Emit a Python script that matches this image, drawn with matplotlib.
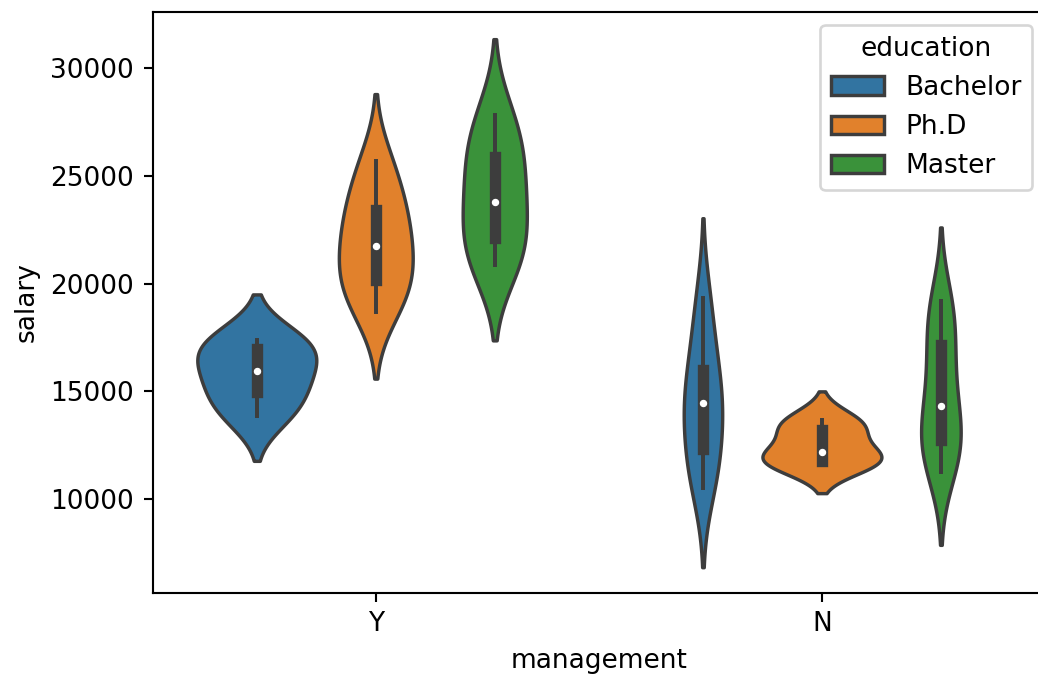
import matplotlib
matplotlib.use("Agg")
import matplotlib.pyplot as plt
import pandas as pd
import seaborn as sns

salary = [13876, 11608, 18701, 11283, 11767, 20872, 11772, 10535, 12195, 12313,
          14975, 21371, 19800, 11417, 20263, 13231, 12884, 13245, 13677, 15965,
          12336, 21352, 13839, 22884, 16978, 14803, 17404, 22184, 13548, 14467,
          15942, 23174, 23780, 25410, 14861, 16882, 24170, 15990, 26330, 17949,
          25685, 27837, 18838, 17483, 19207, 19346]
education = ["Bachelor", "Ph.D", "Ph.D", "Master", "Ph.D", "Master", "Master", "Bachelor", "Ph.D", "Master",
             "Bachelor", "Master", "Ph.D", "Bachelor", "Ph.D", "Ph.D", "Master", "Master", "Ph.D", "Bachelor",
             "Bachelor", "Ph.D", "Master", "Master", "Bachelor", "Master", "Bachelor", "Ph.D", "Bachelor", "Bachelor",
             "Master", "Ph.D", "Master", "Master", "Bachelor", "Master", "Ph.D", "Bachelor", "Master", "Master",
             "Ph.D", "Master", "Master", "Bachelor", "Master", "Bachelor"]
management = ["Y", "N", "Y", "N", "N", "Y", "N", "N", "N", "N",
              "Y", "Y", "Y", "N", "Y", "N", "N", "N", "N", "Y",
              "N", "Y", "N", "Y", "Y", "N", "Y", "Y", "N", "N",
              "N", "Y", "Y", "Y", "N", "N", "Y", "N", "Y", "N",
              "Y", "Y", "N", "N", "N", "N"]
mgmt_order = ["Y", "N"]
edu_order = ["Bachelor", "Ph.D", "Master"]
yticks = [10000, 15000, 20000, 25000, 30000]

df = pd.DataFrame({"salary": salary, "education": education, "management": management})

W, H = 1038, 677
DPI = 190
fig = plt.figure(figsize=(W / DPI, H / DPI), dpi=DPI)
# the original image is cropped on the right: the axes extends past the figure edge
left, right, top, bottom = 152.7, 1045.0, 12.0, 593.0
ax = fig.add_axes([left / W, 1 - bottom / H, (right - left) / W, (bottom - top) / H])

# old-style seaborn: area scaling normalised within each management level
for i, m in enumerate(mgmt_order):
    sub = df[df["management"] == m]
    sns.violinplot(x="management", y="salary", hue="education", data=sub, ax=ax,
                   order=mgmt_order, hue_order=edu_order,
                   density_norm="area", common_norm=True, linewidth=1.3,
                   inner_kws=dict(box_width=4.3, whis_width=1.5, marker="o",
                                  markersize=2.3, markeredgewidth=0.5),
                   legend=(i == 0))

ax.set_yticks(yticks)
ax.set_ylim(5650, 32600)
ax.set_xlim(-0.5, 1.5)
sns.move_legend(ax, "upper right", title="education")
fig.savefig("out.png", dpi=DPI)
